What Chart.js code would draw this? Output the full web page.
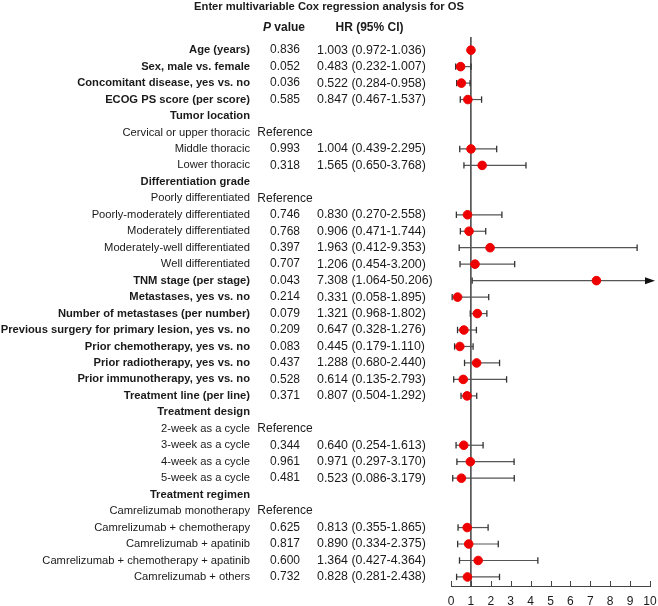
<!DOCTYPE html>
<html>
<head>
<meta charset="utf-8">
<script src="https://cdn.jsdelivr.net/npm/chart.js@4.4.1/dist/chart.umd.min.js"></script>
<style>
  body { margin: 0; background: #fff; }
  #forest { display: block; }
</style>
</head>
<body>
<canvas id="forest" width="658" height="606"></canvas>
<script>
// rows, top to bottom
const rowLabels = [
    'Age (years)', 'Sex, male vs. female', 'Concomitant disease, yes vs. no', 'ECOG PS score (per score)',
    'Tumor location', 'Cervical or upper thoracic', 'Middle thoracic', 'Lower thoracic',
    'Differentiation grade', 'Poorly differentiated', 'Poorly-moderately differentiated', 'Moderately differentiated',
    'Moderately-well differentiated', 'Well differentiated', 'TNM stage (per stage)', 'Metastases, yes vs. no',
    'Number of metastases (per number)', 'Previous surgery for primary lesion, yes vs. no', 'Prior chemotherapy, yes vs. no',
    'Prior radiotherapy, yes vs. no', 'Prior immunotherapy, yes vs. no', 'Treatment line (per line)',
    'Treatment design', '2-week as a cycle', '3-week as a cycle', '4-week as a cycle', '5-week as a cycle',
    'Treatment regimen', 'Camrelizumab monotherapy', 'Camrelizumab + chemotherapy', 'Camrelizumab + apatinib',
    'Camrelizumab + chemotherapy + apatinib', 'Camrelizumab + others'
];
const boldRows = [0, 1, 2, 3, 4, 8, 14, 15, 16, 17, 18, 19, 20, 21, 22, 27];
const pValues = [
    '0.836', '0.052', '0.036', '0.585', '', 'Reference', '0.993', '0.318',
    '', 'Reference', '0.746', '0.768', '0.397', '0.707', '0.043', '0.214',
    '0.079', '0.209', '0.083', '0.437', '0.528', '0.371',
    '', 'Reference', '0.344', '0.961', '0.481',
    '', 'Reference', '0.625', '0.817', '0.600', '0.732'
];
const hrValues = [1.003, 0.483, 0.522, 0.847, null, null, 1.004, 1.565, null, null, 0.830, 0.906, 1.963, 1.206, 7.308, 0.331,
    1.321, 0.647, 0.445, 1.288, 0.614, 0.807, null, null, 0.640, 0.971, 0.523, null, null, 0.813, 0.890, 1.364, 0.828];
const ciLow = [0.972, 0.232, 0.284, 0.467, null, null, 0.439, 0.650, null, null, 0.270, 0.471, 0.412, 0.454, 1.064, 0.058,
    0.968, 0.328, 0.179, 0.680, 0.135, 0.504, null, null, 0.254, 0.297, 0.086, null, null, 0.355, 0.334, 0.427, 0.281];
const ciHigh = [1.036, 1.007, 0.958, 1.537, null, null, 2.295, 3.768, null, null, 2.558, 1.744, 9.353, 3.200, 50.206, 1.895,
    1.802, 1.276, 1.110, 2.440, 2.793, 1.292, null, null, 1.613, 3.170, 3.179, null, null, 1.865, 2.375, 4.364, 2.438];
const xTicks = [0, 1, 2, 3, 4, 5, 6, 7, 8, 9, 10];

const titleText = 'Enter multivariable Cox regression analysis for OS';
const FONT = '"Liberation Sans", Arial, sans-serif';
const TXT = '#1a1a1a';
const xMax = xTicks[xTicks.length - 1];

// build datasets
const dots = [], caps = [], whiskers = [];
hrValues.forEach((hr, i) => {
    if (hr === null) return;
    dots.push({ x: hr, y: i });
    caps.push({ x: ciLow[i], y: i });
    if (ciHigh[i] <= xMax) caps.push({ x: ciHigh[i], y: i });
    whiskers.push({
        type: 'line',
        data: [{ x: ciLow[i], y: i }, { x: Math.min(ciHigh[i], xMax), y: i }],
        borderColor: '#555', borderWidth: 1.2, pointRadius: 0, order: 3, clip: false
    });
});

const textPlugin = {
    id: 'forestText',
    beforeDatasetsDraw(chart) {
        const { ctx, scales: { x }, chartArea } = chart;
        ctx.save();
        ctx.strokeStyle = '#222'; ctx.lineWidth = 1.3;
        ctx.beginPath();
        ctx.moveTo(x.getPixelForValue(1), chartArea.top);
        ctx.lineTo(x.getPixelForValue(1), chartArea.bottom);
        ctx.stroke();
        ctx.restore();
    },
    afterDraw(chart) {
        const { ctx, scales: { x, y }, chartArea } = chart;
        ctx.save();
        ctx.fillStyle = TXT;
        ctx.textBaseline = 'middle';

        // title + headers
        ctx.font = 'bold 11.2px ' + FONT;
        ctx.textAlign = 'center';
        ctx.fillText(titleText, chart.width / 2, 7);
        ctx.font = 'bold 12px ' + FONT;
        ctx.fillText('HR (95% CI)', 369.5, 27.5);
        ctx.textAlign = 'left';
        ctx.font = 'italic bold 12px ' + FONT;
        const pw = ctx.measureText('P').width;
        ctx.font = 'bold 12px ' + FONT;
        const vw = ctx.measureText(' value').width;
        const px0 = 284 - (pw + vw) / 2;
        ctx.font = 'italic bold 12px ' + FONT;
        ctx.fillText('P', px0, 27.5);
        ctx.font = 'bold 12px ' + FONT;
        ctx.fillText(' value', px0 + pw, 27.5);

        rowLabels.forEach((lab, i) => {
            const yy = y.getPixelForValue(i);
            ctx.font = (boldRows.includes(i) ? 'bold ' : '') + '11.2px ' + FONT;
            ctx.textAlign = 'right';
            ctx.fillText(lab, 250, yy);
            ctx.font = '12px ' + FONT;
            ctx.textAlign = 'center';
            if (pValues[i]) ctx.fillText(pValues[i], 285, yy);
            if (hrValues[i] !== null) {
                ctx.font = '12.4px ' + FONT;
                ctx.textAlign = 'left';
                ctx.fillText(`${hrValues[i].toFixed(3)} (${ciLow[i].toFixed(3)}-${ciHigh[i].toFixed(3)})`, 317, yy);
            }
            // arrow for CI running off the axis
            if (ciHigh[i] !== null && ciHigh[i] > xMax) {
                const ax = x.getPixelForValue(xMax);
                ctx.fillStyle = '#111';
                ctx.beginPath();
                ctx.moveTo(ax + 5, yy);
                ctx.lineTo(ax - 5, yy - 3.5);
                ctx.lineTo(ax - 5, yy + 3.5);
                ctx.closePath();
                ctx.fill();
                ctx.fillStyle = TXT;
            }
        });

        // inward tick marks on the x axis
        ctx.strokeStyle = '#444'; ctx.lineWidth = 1;
        x.ticks.forEach(tk => {
            const tx = Math.round(x.getPixelForValue(tk.value)) + 0.5;
            ctx.beginPath();
            ctx.moveTo(tx, chartArea.bottom);
            ctx.lineTo(tx, chartArea.bottom - 5);
            ctx.stroke();
        });
        ctx.restore();
    }
};

new Chart(document.getElementById('forest'), {
    type: 'scatter',
    data: {
        datasets: [
            { data: dots, backgroundColor: '#ee0000', borderColor: '#ee0000', pointRadius: 4.3, order: 1, clip: false },
            { data: caps, pointStyle: 'line', rotation: 90, pointRadius: 3.2, borderColor: '#333', borderWidth: 1.3, order: 2, clip: false },
            ...whiskers
        ]
    },
    options: {
        responsive: false,
        animation: false,
        layout: { padding: { left: 451, right: 8, top: 37, bottom: 0 } },
        plugins: { legend: { display: false }, tooltip: { enabled: false } },
        scales: {
            x: {
                type: 'linear', min: 0, max: xMax,
                afterBuildTicks: s => { s.ticks = xTicks.map(v => ({ value: v })); },
                afterFit: s => { s.height = 20; s.paddingLeft = 0; s.paddingRight = 0; },
                grid: { display: false, drawTicks: false },
                border: { display: true, color: '#444', width: 1 },
                ticks: { color: TXT, font: { family: FONT, size: 12 }, padding: 8, maxRotation: 0 }
            },
            y: {
                type: 'linear', reverse: true, min: -0.8, max: 32.55, display: false
            }
        }
    },
    plugins: [textPlugin]
});
</script>
</body>
</html>
